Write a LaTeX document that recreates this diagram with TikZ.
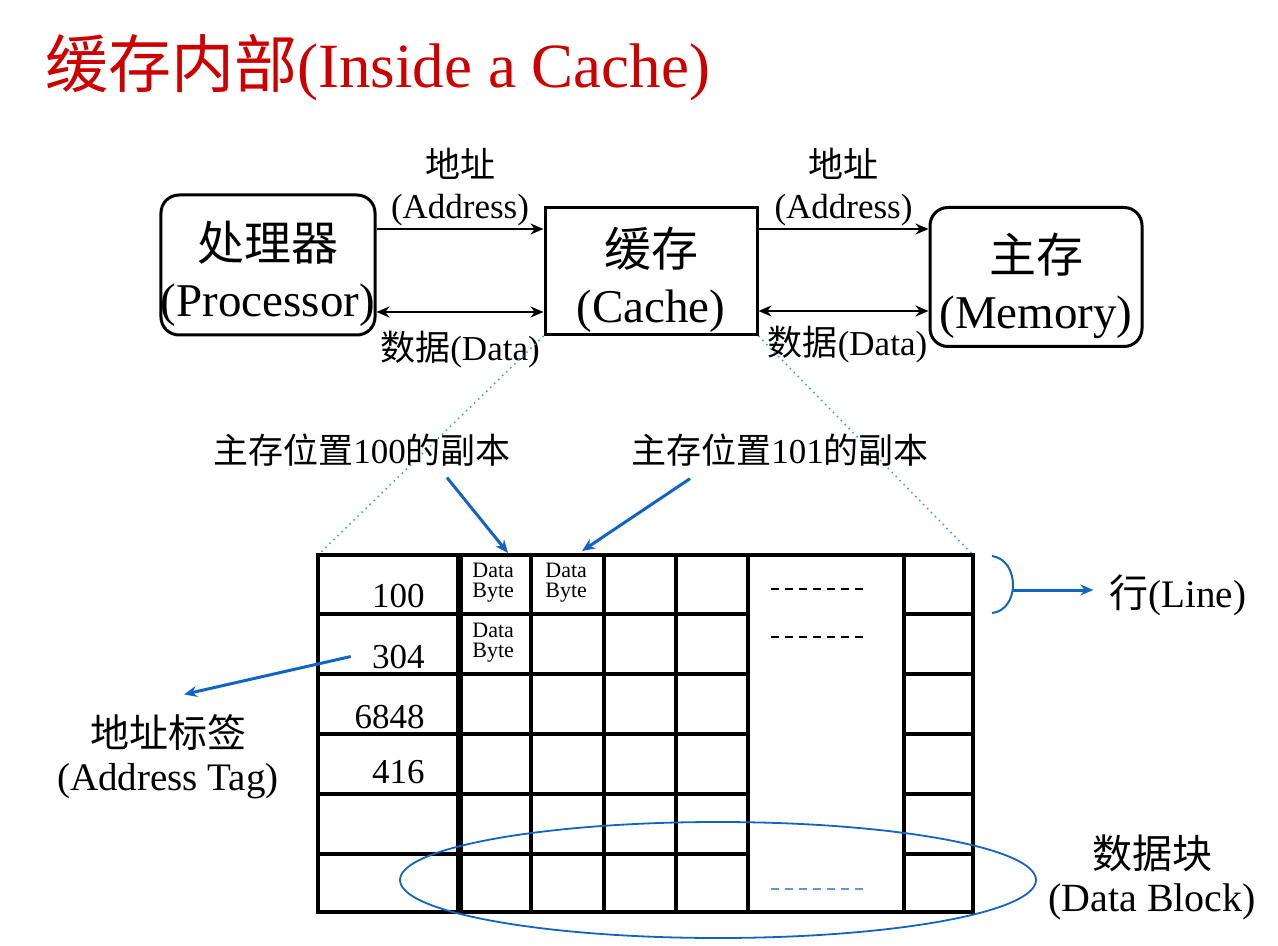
\documentclass[tikz,border=0pt]{standalone}
\usepackage{fontspec}
\setmainfont{Liberation Serif}
\newfontfamily\cjk{Noto Sans CJK SC}
\usepackage{tikz}
\usetikzlibrary{arrows.meta}
\usetikzlibrary{positioning}
\definecolor{titlered}{RGB}{204,0,0}
\definecolor{tagblue}{RGB}{18,100,196}
\definecolor{dotblue}{RGB}{91,155,213}
\newcommand{\zh}[1]{{\cjk #1}}
\newcommand{\upgap}{\rule{0pt}{29pt}}

\begin{document}
\begin{tikzpicture}[x=0.5pt,y=-0.5pt,>={Stealth[length=6.5pt,width=5.5pt]},
  unit/.style={draw, line width=1.5pt, inner xsep=0pt, inner ysep=0pt, minimum width=106pt, align=center, font=\fontsize{23.5}{28}\selectfont},
  lbl/.style={align=center, font=\fontsize{17.5}{20.5}\selectfont, inner sep=1pt},
  bus/.style={line width=1.3pt},
  pointer/.style={->, tagblue, line width=1.5pt},
  grid/.style={line width=2pt},
  byte/.style={anchor=north west, align=left, inner sep=0pt, font=\fontsize{11}{10}\selectfont}]
\useasboundingbox (0,0) rectangle (1278,946);
\node[anchor=west, titlered, inner sep=0pt, font=\fontsize{31.5}{36}\selectfont] (title) at (45,68) {\zh{缓存内部}(Inside a Cache)};

\node[unit, rounded corners=9pt, minimum height=70pt] (proc) at (268,265) {\upgap\zh{处理器}\\(Processor)};
\node[unit, minimum height=63.5pt] (cache) at (651,271) {\upgap\zh{缓存}\\(Cache)};
\node[unit, rounded corners=9pt, minimum height=69.5pt] (mem) at (1036,277) {\upgap\zh{主存}\\(Memory)};
\draw[bus,->] ([yshift=18pt]proc.east) -- ([yshift=18pt]proc.east -| cache.west) node[lbl, midway, above] {\zh{地址}\\(Address)};
\draw[bus,<->] ([yshift=-23.5pt]proc.east) -- ([yshift=-23.5pt]proc.east -| cache.west) node[lbl, midway, below=8pt] {\zh{数据}(Data)};
\draw[bus,->] ([yshift=21pt]cache.east) -- ([yshift=21pt]cache.east -| mem.west) node[lbl, midway, above] {\zh{地址}\\(Address)};
\draw[bus,<->] ([yshift=-20pt]cache.east) -- ([yshift=-20pt]cache.east -| mem.west) node[lbl, midway, below=6pt, xshift=2pt] {\zh{数据}(Data)};

% the cache lines
\coordinate (tblNW) at (318,555);
\coordinate (tblNE) at (973,555);
\coordinate (tblSE) at (973,912);
\draw[dotblue, dotted, line width=0.8pt] (cache.south west) -- (tblNW);
\draw[dotblue, dotted, line width=0.8pt] (cache.south east) -- (tblNE);
\draw[grid] (tblNW) rectangle (tblSE);
\foreach \x in {531,604,676,748,904}
  \draw[grid] (\x,555) -- (\x,912);
\draw[line width=3.5pt] (459,555) -- (459,912);
\foreach \y in {614,674,734,794,854} {
  \draw[grid] (318,\y) -- (748,\y);
  \draw[grid] (904,\y) -- (973,\y);
}
\foreach \y in {589,637}
  \draw[line width=1pt, dash pattern=on 4pt off 3pt] (771,\y) -- (865,\y);
\draw[dotblue, line width=1pt, dash pattern=on 4pt off 3pt] (771,889) -- (865,889);
\foreach \t/\y in {100/607,304/668,6848/728,416/783}
  \node[anchor=base east, inner sep=0pt, font=\fontsize{17.5}{20}\selectfont] (tag\t) at (425,\y) {\t};
\node[byte] (byteA) at (472,563) {Data\\Byte};
\node[byte] (byteB) at (545,563) {Data\\Byte};
\node[byte] (byteC) at (472,623) {Data\\Byte};

% labels and pointers
\node[lbl] (copyA) at (362,450) {\zh{主存位置}100\zh{的副本}};
\node[lbl] (copyB) at (780,450) {\zh{主存位置}101\zh{的副本}};
\coordinate (cellA) at (508,553);
\coordinate (cellB) at (582,551);
\draw[pointer] ([xshift=42.5pt,yshift=-4.5pt]copyA.south) -- (cellA);
\draw[pointer] ([xshift=-45pt,yshift=-5pt]copyB.south) -- (cellB);

\node[lbl, font=\fontsize{19.5}{21.5}\selectfont] (tagLbl) at (168,757) {\zh{地址标签}\\(Address Tag)};
\draw[pointer] ([xshift=-10.5pt]tag304.west) -- ([xshift=8pt,yshift=9pt]tagLbl.north);

\draw[tagblue, line width=1pt] (992,556) .. controls (1020,560) and (1020,610) .. (992,613);
\coordinate (lineTip) at (1012,590);
\node[lbl, font=\fontsize{19.5}{21.5}\selectfont] (lineLbl) at (1178,595) {\zh{行}(Line)};
\draw[pointer, shorten >=7pt] (lineTip) -- (lineTip -| lineLbl.west);

\draw[tagblue, line width=0.9pt] (718,880) ellipse [x radius=318, y radius=58];
\node[lbl, font=\fontsize{20}{21.5}\selectfont] (blockLbl) at (1152,877) {\zh{数据块}\\(Data Block)};
\end{tikzpicture}
\end{document}
